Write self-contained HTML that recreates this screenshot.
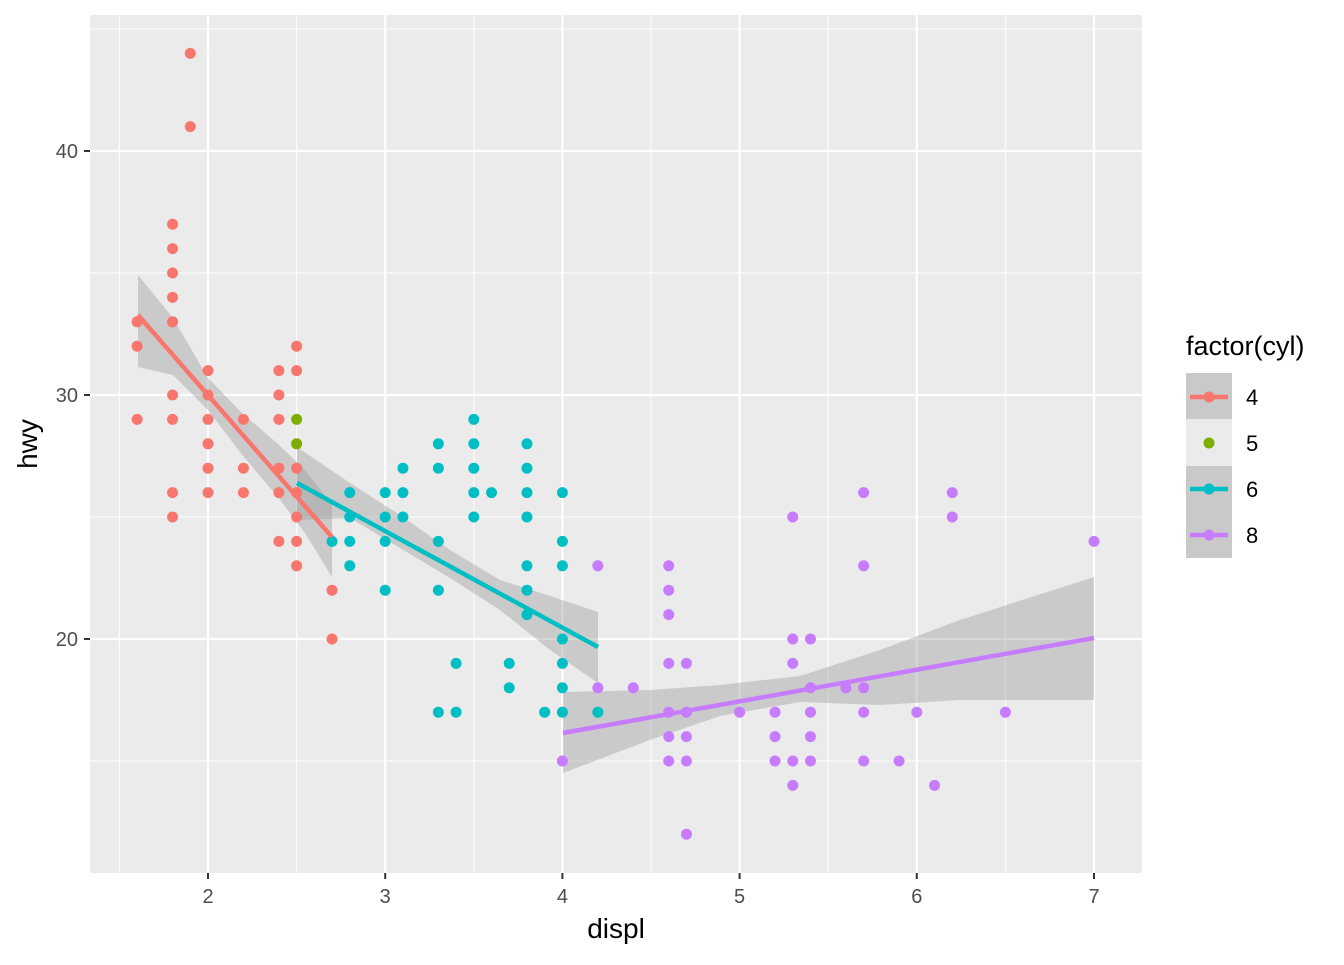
<!DOCTYPE html>
<html><head><style>body{margin:0;background:#fff}svg text{font-family:"Liberation Sans",sans-serif}</style></head>
<body>
<svg id="s" width="1344" height="960" xmlns="http://www.w3.org/2000/svg">
<rect x="90" y="15" width="1052" height="858" fill="#EBEBEB"/>
<g id="grid"></g>
<polygon fill="#999" fill-opacity="0.4" points="138,275 173,318 208,378 243,414 278,444 305,470 332,505 332,577 305,533 278,497 243,456 208,410 173,375 138,367"/>
<polygon fill="#999" fill-opacity="0.4" points="297,447 350,483 400,515 450,550 500,580 550,596 598,612 598,683 550,650 500,610 450,578 400,548 350,518 297,520"/>
<polygon fill="#999" fill-opacity="0.4" points="563,692 650,690 720,685 800,676 880,650 960,620 1094,577 1094,700 960,700 880,705 800,702 720,716 650,740 563,773"/>
<g id="pts"></g>
<line x1="138" y1="315" x2="332" y2="537" stroke="#F8766D" stroke-width="4.5"/>
<line x1="297" y1="483" x2="598" y2="647" stroke="#00BFC4" stroke-width="4.5"/>
<line x1="563" y1="733" x2="1094" y2="638" stroke="#C77CFF" stroke-width="4.5"/>
<g id="ax" font-size="20" fill="#4D4D4D"></g>
<text x="616" y="938" font-size="28" text-anchor="middle">displ</text>
<text x="37" y="444" font-size="28" text-anchor="middle" transform="rotate(-90 37 444)">hwy</text>
<text x="1186" y="355" font-size="27">factor(cyl)</text>
<rect x="1186" y="373" width="46" height="46" fill="#C9C9C9"/>
<rect x="1186" y="419" width="46" height="47" fill="#EBEBEB"/>
<rect x="1186" y="466" width="46" height="46" fill="#C9C9C9"/>
<rect x="1186" y="512" width="46" height="46" fill="#C9C9C9"/>
<line x1="1190" y1="397" x2="1228" y2="397" stroke="#F8766D" stroke-width="4.5"/><circle cx="1209" cy="397" r="5.5" fill="#F8766D"/>
<circle cx="1209" cy="443" r="5.5" fill="#7CAE00"/>
<line x1="1190" y1="489" x2="1228" y2="489" stroke="#00BFC4" stroke-width="4.5"/><circle cx="1209" cy="489" r="5.5" fill="#00BFC4"/>
<line x1="1190" y1="535" x2="1228" y2="535" stroke="#C77CFF" stroke-width="4.5"/><circle cx="1209" cy="535" r="5.5" fill="#C77CFF"/>
<g font-size="22"><text x="1246" y="405">4</text><text x="1246" y="451">5</text><text x="1246" y="497">6</text><text x="1246" y="543">8</text></g>
</svg>
<script>
const X=v=>208+(v-2)*177.2, Y=v=>639-(v-20)*24.4, ns="http://www.w3.org/2000/svg";
function el(p,t,a){const e=document.createElementNS(ns,t);for(const k in a)e.setAttribute(k,a[k]);document.getElementById(p).appendChild(e);return e;}
for(let v=1.5;v<=7;v+=0.5){el("grid","line",{x1:X(v),x2:X(v),y1:15,y2:873,stroke:"#fff","stroke-width":v%1?1:2.2});}
for(let v=15;v<=45;v+=5){el("grid","line",{y1:Y(v),y2:Y(v),x1:90,x2:1142,stroke:"#fff","stroke-width":v%10?1:2.2});}
for(let v=2;v<=7;v++){el("ax","line",{x1:X(v),x2:X(v),y1:873,y2:879,stroke:"#333","stroke-width":2});el("ax","text",{x:X(v),y:903,"text-anchor":"middle"}).textContent=v;}
for(let v=20;v<=40;v+=10){el("ax","line",{x1:84,x2:90,y1:Y(v),y2:Y(v),stroke:"#333","stroke-width":2});el("ax","text",{x:78,y:Y(v)+7,"text-anchor":"end"}).textContent=v;}
const D={"#F8766D":{1.6:[33,32,29],1.8:[37,36,35,34,33,30,29,26,25],1.9:[44,41],2.0:[31,30,29,28,27,26],2.2:[29,27,26],2.4:[31,30,29,27,26,24],2.5:[32,31,27,26,25,24,23],2.7:[22,20]},
"#7CAE00":{2.5:[29,28]},
"#00BFC4":{2.7:[24],2.8:[26,25,24,23],3.0:[26,25,24,22],3.1:[27,26,25],3.3:[28,27,24,22,17],3.4:[19,17],3.5:[29,28,27,26,25],3.6:[26],3.7:[19,18],3.8:[28,27,26,25,23,22,21],3.9:[17],4.0:[26,24,23,20,19,18,17],4.2:[17]},
"#C77CFF":{4.0:[15],4.2:[23,18],4.4:[18],4.6:[23,22,21,19,17,16,15],4.7:[19,17,16,15,12],5.0:[17],5.2:[17,16,15],5.3:[25,20,19,15,14],5.4:[20,18,17,16,15],5.6:[18],5.7:[26,23,18,17,15],5.9:[15],6.0:[17],6.1:[14],6.2:[26,25],6.5:[17],7.0:[24]}};
for(const c in D)for(const x in D[c])for(const y of D[c][x])el("pts","circle",{cx:X(+x),cy:Y(y),r:5.5,fill:c});
</script>
</body></html>
